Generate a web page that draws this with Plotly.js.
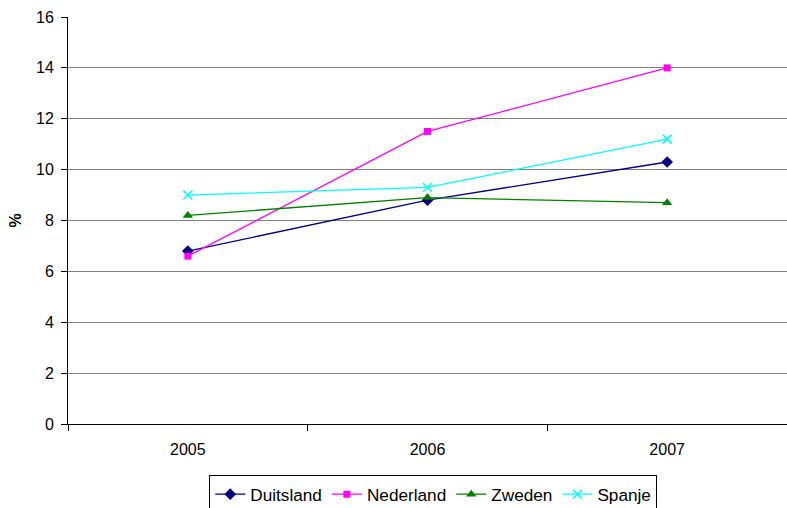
<!DOCTYPE html>
<html>
<head>
<meta charset="utf-8">
<script src="https://cdn.plot.ly/plotly-3.0.1.min.js"></script>
<style>html,body{margin:0;padding:0;background:#fff;}#chart{width:787px;height:508px;}</style>
</head>
<body>
<div id="chart"></div>
<script>
var years = ['2005', '2006', '2007'];
var duitsland = [6.8, 8.8, 10.3];
var nederland = [6.6, 11.5, 14.0];
var zweden = [8.2, 8.9, 8.7];
var spanje = [9.0, 9.3, 11.2];
var yTicks = [0, 2, 4, 6, 8, 10, 12, 14, 16];

function tr(name, vals, color, symbol, size, mline) {
  return {
    x: years, y: vals, name: name, type: 'scatter', mode: 'lines+markers',
    line: {color: color, width: 1.3},
    marker: {color: color, symbol: symbol, size: size, line: mline || {width: 0}}
  };
}
var data = [
  tr('Duitsland', duitsland, '#000080', 'diamond', 9),
  tr('Nederland', nederland, '#FF00FF', 'square', 7),
  tr('Zweden', zweden, '#008000', 'triangle-up', 9),
  tr('Spanje', spanje, '#00FFFF', 'x-thin-open', 9, {color: '#00FFFF', width: 1.5})
];
var layout = {
  width: 787, height: 508,
  margin: {l: 68, r: 0, t: 17, b: 84, autoexpand: false},
  paper_bgcolor: '#fff', plot_bgcolor: '#fff',
  font: {family: 'Liberation Sans, Arial, sans-serif', size: 16, color: '#000'},
  showlegend: true,
  legend: {orientation: 'h', x: 0.508, xanchor: 'center', yref: 'container', y: 0.064, yanchor: 'top',
    bordercolor: '#000', borderwidth: 1, bgcolor: '#fff',
    font: {size: 17.2}, itemwidth: 30, tracegroupgap: 0},
  xaxis: {type: 'category', range: [-0.5, 2.5], tickson: 'boundaries',
    ticks: 'outside', ticklen: 6, tickcolor: '#000', showgrid: false,
    ticklabelstandoff: 11,
    showline: true, linecolor: '#000', linewidth: 1, zeroline: false, fixedrange: true},
  yaxis: {range: [0, 16], tickvals: yTicks, ticktext: yTicks.map(String),
    ticks: 'outside', ticklen: 6, tickcolor: '#000', ticklabelstandoff: 4,
    showgrid: true, gridcolor: '#808080', gridwidth: 1,
    showline: true, linecolor: '#000', linewidth: 1, zeroline: false,
    title: {text: '<b>%</b>', font: {size: 16}, standoff: 10}}
};
Plotly.newPlot('chart', data, layout, {displayModeBar: false, staticPlot: true});
</script>
</body>
</html>
